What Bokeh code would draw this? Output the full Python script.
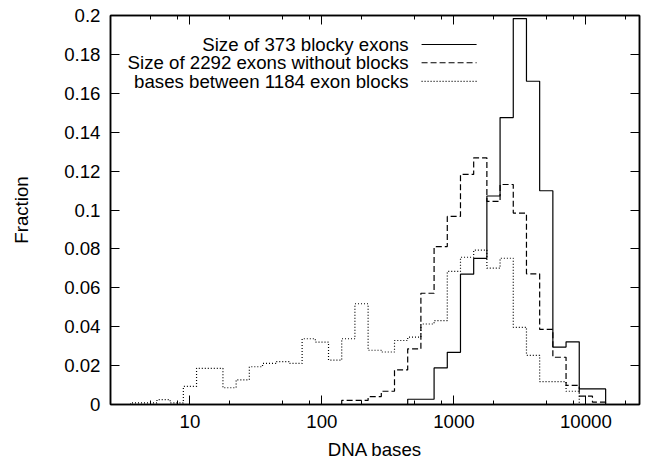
import numpy as np
from bokeh.plotting import figure
from bokeh.models import FixedTicker, LinearAxis, LogAxis, Range1d, NumeralTickFormatter
from bokeh.embed import file_html
from bokeh.resources import INLINE
from bokeh.core.properties import value

# ---- data: bin centres are log10(DNA bases), bins 0.1 decade wide ----
BIN_HALF_WIDTH = 0.05

blocky_log10 = [2.7, 2.8, 2.9, 3.0, 3.1, 3.2, 3.3, 3.4, 3.5, 3.6, 3.7, 3.8, 3.9, 4.0, 4.1]
blocky_frac = [0.0027, 0.0027, 0.0188, 0.0268, 0.0670, 0.0751, 0.1072, 0.1475,
               0.1984, 0.1662, 0.1099, 0.0295, 0.0322, 0.0080, 0.0080]

noblock_log10 = [2.2, 2.3, 2.4, 2.5, 2.6, 2.7, 2.8, 2.9, 3.0, 3.1, 3.2, 3.3, 3.4, 3.5,
                 3.6, 3.7, 3.8, 3.9, 4.0, 4.1]
noblock_frac = [0.0021, 0.0021, 0.0041, 0.0068, 0.0178, 0.0286, 0.0572, 0.0812, 0.0967,
                0.1183, 0.1268, 0.1044, 0.1131, 0.0984, 0.0672, 0.0386, 0.0243, 0.0098,
                0.0043, 0.0012]

between_log10 = [0.6, 0.7, 0.8, 0.9, 1.0, 1.1, 1.2, 1.3, 1.4, 1.5, 1.6, 1.7, 1.8, 1.9,
                 2.0, 2.1, 2.2, 2.3, 2.4, 2.5, 2.6, 2.7, 2.8, 2.9, 3.0, 3.1, 3.2, 3.3,
                 3.4, 3.5, 3.6, 3.7, 3.8, 3.9]
between_frac = [0.0008, 0.0008, 0.0025, 0.0008, 0.0093, 0.0186, 0.0186, 0.0086, 0.0127,
                0.0194, 0.0211, 0.0220, 0.0211, 0.0338, 0.0321, 0.0228, 0.0338, 0.0518,
                0.0279, 0.0270, 0.0329, 0.0346, 0.0414, 0.0431, 0.0684, 0.0757, 0.0794,
                0.0701, 0.0752, 0.0397, 0.0253, 0.0118, 0.0118, 0.0068]

series_labels = ["Size of 373 blocky exons",
                 "Size of 2292 exons without blocks",
                 "bases between 1184 exon blocks"]

x_major_ticks = [10, 100, 1000, 10000]
x_minor_ticks = [5, 8, 20, 50, 80, 200, 500, 800, 2000, 5000, 8000, 20000]
y_ticks = [0, 0.02, 0.04, 0.06, 0.08, 0.1, 0.12, 0.14, 0.16, 0.18, 0.2]
y_labels = ["0", "0.02", "0.04", "0.06", "0.08", "0.1", "0.12", "0.14", "0.16", "0.18", "0.2"]

X_RANGE = (2.5, 25500)
Y_RANGE = (0, 0.2)

FONT = "Liberation Sans"
FSIZE = "14pt"


def step_path(centres, fracs):
    c = np.asarray(centres, dtype=float)
    v = np.asarray(fracs, dtype=float)
    lo = 10 ** (c - BIN_HALF_WIDTH)
    hi = 10 ** (c + BIN_HALF_WIDTH)
    xs = [float(lo[0])]
    ys = [0.0]
    for a, b, h in zip(lo, hi, v):
        xs += [float(a), float(b)]
        ys += [float(h), float(h)]
    xs.append(float(hi[-1]))
    ys.append(0.0)
    return xs, ys


p = figure(
    x_axis_type="log",
    x_range=Range1d(*X_RANGE),
    y_range=Range1d(*Y_RANGE),
    frame_width=529, frame_height=389,
    min_border_left=110, min_border_right=10, min_border_top=15, min_border_bottom=57,
    output_backend="svg", toolbar_location=None,
    background_fill_color="white", border_fill_color="white",
)
p.grid.visible = False
p.outline_line_color = "black"
p.outline_line_width = 1.5

styles = [
    dict(line_dash="solid"),
    dict(line_dash="6 3"),
    dict(line_dash="1 2"),
]
data = [(blocky_log10, blocky_frac), (noblock_log10, noblock_frac), (between_log10, between_frac)]
for (c, f), st in zip(data, styles):
    xs, ys = step_path(c, f)
    p.line(xs, ys, line_color="black", line_width=1.2, **st)

# key (gnuplot style: right-justified text, sample to its right)
key_text_x = 454
key_sample_x = (569, 1486)
key_rows_y = [0.1851, 0.1757, 0.1661]
p.text(x=[key_text_x] * 3, y=key_rows_y, text=series_labels,
       text_align="right", text_baseline="middle",
       text_font=value(FONT), text_font_size=value(FSIZE), text_color="black")
for yy, st in zip(key_rows_y, styles):
    p.line(list(key_sample_x), [yy, yy], line_color="black", line_width=1.2, **st)

xticker = FixedTicker(ticks=x_major_ticks, minor_ticks=x_minor_ticks)
yticker = FixedTicker(ticks=y_ticks, minor_ticks=[])


def style_axis(ax, show_labels):
    ax.axis_line_color = "black"
    ax.axis_line_width = 1.5
    ax.major_tick_line_color = "black"
    ax.minor_tick_line_color = "black"
    ax.major_tick_line_width = 1
    ax.minor_tick_line_width = 1
    ax.major_tick_in = 9
    ax.major_tick_out = 0
    ax.minor_tick_in = 4
    ax.minor_tick_out = 0
    ax.major_label_text_font = FONT
    ax.major_label_text_color = "black"
    ax.axis_label_text_font = FONT
    ax.axis_label_text_font_size = FSIZE
    ax.axis_label_text_font_style = "normal"
    ax.axis_label_text_color = "black"
    if show_labels:
        ax.major_label_text_font_size = FSIZE
    else:
        ax.major_label_text_font_size = "1px"
        ax.major_label_text_alpha = 0
        ax.major_label_standoff = 0


xa = p.xaxis[0]
xa.ticker = xticker
xa.formatter = NumeralTickFormatter(format="0")
xa.axis_label = "DNA bases"
xa.major_label_standoff = 10
xa.axis_label_standoff = 8
style_axis(xa, True)

ya = p.yaxis[0]
ya.ticker = yticker
ya.major_label_overrides = {str(k): v for k, v in zip(y_ticks, y_labels)}
ya.axis_label = "Fraction"
ya.major_label_standoff = 10
ya.axis_label_standoff = 29
style_axis(ya, True)

top = LogAxis(ticker=xticker)
style_axis(top, False)
p.add_layout(top, "above")
right = LinearAxis(ticker=yticker)
style_axis(right, False)
right.minor_tick_in = 0
p.add_layout(right, "right")

open("out.html", "w").write(file_html(p, INLINE))
